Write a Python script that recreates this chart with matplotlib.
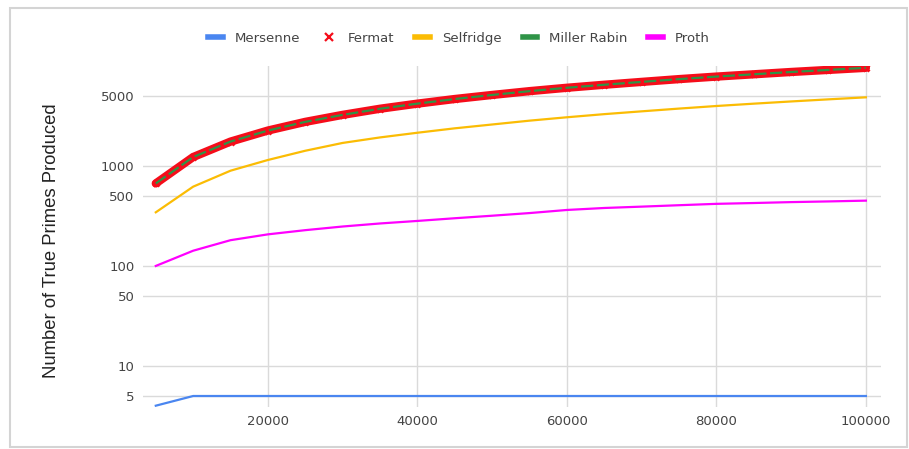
import matplotlib.pyplot as plt
from matplotlib.lines import Line2D
from matplotlib.patches import Rectangle

plt.rcParams['font.family'] = ['DejaVu Sans']

# upper bound of the search range
limits = [5000, 10000, 15000, 20000, 25000, 30000, 35000, 40000, 45000, 50000,
          55000, 60000, 65000, 70000, 75000, 80000, 85000, 90000, 95000, 100000]

mersenne = [4, 5, 5, 5, 5, 5, 5, 5, 5, 5, 5, 5, 5, 5, 5, 5, 5, 5, 5, 5]
fermat = [669, 1229, 1754, 2262, 2762, 3245, 3737, 4203, 4675, 5133,
          5604, 6057, 6493, 6935, 7393, 7837, 8263, 8713, 9142, 9592]
selfridge = [344, 621, 897, 1148, 1420, 1700, 1930, 2150, 2380, 2600,
             2840, 3070, 3300, 3520, 3750, 3980, 4200, 4420, 4640, 4860]
miller_rabin = [669, 1229, 1754, 2262, 2762, 3245, 3737, 4203, 4675, 5133,
                5604, 6057, 6493, 6935, 7393, 7837, 8263, 8713, 9142, 9592]
proth = [100, 142, 181, 207, 228, 248, 266, 282, 300, 318,
         338, 363, 380, 392, 405, 418, 426, 435, 442, 450]

y_ticks = [5, 10, 50, 100, 500, 1000, 5000]
x_ticks = [20000, 40000, 60000, 80000, 100000]

c_mersenne = '#4a86f0'
c_fermat = '#f50d1a'
c_selfridge = '#fbbc04'
c_miller = '#2f9447'
c_proth = '#ff00ff'

fig = plt.figure(figsize=(9.09, 4.49), dpi=100)
ax = fig.add_axes([0.157, 0.094, 0.812, 0.759])

grid_c = '#dadada'
for t in y_ticks:
    ax.axhline(t, color=grid_c, lw=1.0, zorder=0)
for t in x_ticks:
    ax.axvline(t, color=grid_c, lw=1.0, zorder=0)

ax.plot(limits, mersenne, color=c_mersenne, lw=1.6, zorder=3)
ax.plot(limits, selfridge, color=c_selfridge, lw=1.6, zorder=3)
ax.plot(limits, proth, color=c_proth, lw=1.6, zorder=3)
ax.plot(limits, fermat, color=c_fermat, lw=6.0, marker='x', ms=5, mew=2.0,
        solid_capstyle='round', zorder=4)
ax.plot(limits, miller_rabin, color=c_miller, lw=1.6, dashes=(5.5, 1.6), zorder=5)

ax.set_yscale('log')
ax.set_xlim(3250, 102000)
ax.set_ylim(3.9, 10000)
ax.set_yticks(y_ticks)
ax.set_yticklabels([str(t) for t in y_ticks])
ax.minorticks_off()
ax.set_xticks(x_ticks)
ax.set_xticklabels([str(t) for t in x_ticks])
ax.tick_params(length=0, labelsize=9.5, labelcolor='#444444', pad=6)
ax.tick_params(axis='y', pad=6)
for s in ax.spines.values():
    s.set_visible(False)

fig.text(0.057, 0.463, 'Number of True Primes Produced', rotation=90,
         ha='center', va='center', fontsize=13.3, color='#222222',
         family='Liberation Sans')

handles = [
    Line2D([], [], color=c_mersenne, lw=4),
    Line2D([], [], color=c_fermat, lw=0, marker='x', ms=6, mew=1.6),
    Line2D([], [], color=c_selfridge, lw=4),
    Line2D([], [], color=c_miller, lw=4),
    Line2D([], [], color=c_proth, lw=4),
]
labels = ['Mersenne', 'Fermat', 'Selfridge', 'Miller Rabin', 'Proth']
fig.legend(handles, labels, loc='center', bbox_to_anchor=(0.505, 0.915), ncol=5,
           frameon=False, fontsize=9.5, labelcolor='#444444', handlelength=1.1,
           handletextpad=0.9, columnspacing=1.6)

# light frame round the whole chart
fig.patches.append(Rectangle((0.011, 0.004), 0.987, 0.978, transform=fig.transFigure,
                             fill=False, edgecolor='#d4d4d4', lw=1.5))

fig.savefig('out.png', dpi=100)
